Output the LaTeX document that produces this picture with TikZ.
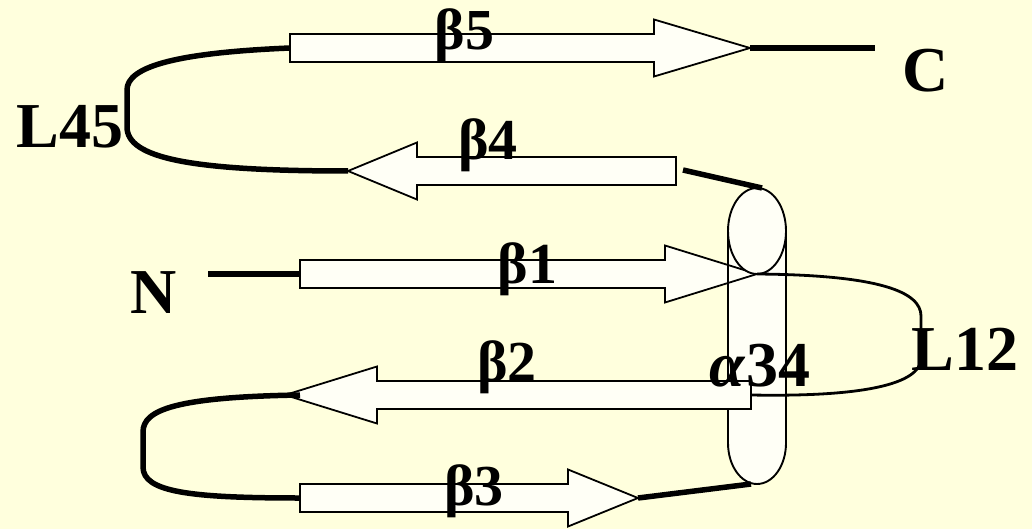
\documentclass[tikz,border=0pt]{standalone}
\usepackage{fontspec}
\setmainfont{Liberation Serif}
\definecolor{bg}{RGB}{255,255,221}
\definecolor{sheet}{RGB}{255,255,246}
\tikzset{
  strand/.style={draw=black, line width=1.8pt, fill=sheet, line join=miter},
  loopthick/.style={draw=black, line width=5.5pt},
  loopthin/.style={draw=black, line width=2.8pt},
  helixfill/.style={fill=sheet},
  helixline/.style={draw=black, line width=1.9pt},
  biglbl/.style={font=\fontsize{64}{64}\selectfont\bfseries, inner sep=0pt, anchor=base},
  betalbl/.style={font=\fontsize{58}{58}\selectfont\bfseries, inner sep=0pt, anchor=base},
}
% #1 tail x, #2 head base x, #3 tip x, #4 centre y, #5 name
\newcommand\sheetarrow[5]{%
  \draw[strand] (#1,#4-14) -- (#2,#4-14) -- (#2,#4-28.5) -- (#3,#4) -- (#2,#4+28.5) -- (#2,#4+14) -- (#1,#4+14) -- cycle;
  \coordinate (#5tail) at (#1,#4);
  \coordinate (#5tip) at (#3,#4);
}
\begin{document}
\begin{tikzpicture}[x=1pt,y=-1pt]
\useasboundingbox (0,0) rectangle (1032,529);
\fill[bg] (0,0) rectangle (1032,529);

% helix body (fill)
\fill[helixfill] (728,231) -- (728,443) arc[start angle=180, end angle=0, x radius=29, y radius=41] -- (786,231) -- cycle;

% beta1
\sheetarrow{300}{665}{757}{274}{bo}

% helix outline over beta1
\draw[helixline] (728,231) -- (728,443) arc[start angle=180, end angle=0, x radius=29, y radius=41] -- (786,231);
\draw[helixline, fill=sheet] (757,231) ellipse[x radius=29, y radius=43];
\coordinate (htop) at (762,188);
\coordinate (hbot) at (751,484);

% other strands
\sheetarrow{751}{377}{285}{395}{bt}
\sheetarrow{300}{568}{638}{498}{bh}
\sheetarrow{676}{417}{348}{171}{bf}
\sheetarrow{290}{654}{750}{48}{bv}

\coordinate (nend) at (208,274);
\coordinate (cend) at (875,48);
\coordinate (bfend) at (683,170);

% terminal lines
\draw[loopthick] (nend) -- (botail);
\draw[loopthick] (bvtip) -- (cend);

% loops
\draw[loopthick] (bvtail) .. controls (170,53) and (127,68) .. (127,90) -- (127,127) .. controls (127,158) and (190,171) .. (bftip);
\draw[loopthick] ([xshift=15pt]bttip) .. controls (175,397) and (143,410) .. (143,432) -- (143,467) .. controls (143,492) and (190,498) .. (bhtail);
\draw[loopthin] (botip) .. controls (880,275) and (921,292) .. (921,316) -- (921,358) .. controls (921,385) and (860,397) .. (bttail);

% helix connectors
\draw[loopthick] (bfend) -- (htop);
\draw[loopthick] (bhtip) -- (hbot);

% labels
\node[betalbl] (l5) at (464.5,50) {β5};
\node[betalbl] (l4) at (488,160) {β4};
\node[betalbl] (l1) at (527.5,283) {β1};
\node[betalbl] (l2) at (507,381) {β2};
\node[betalbl] (l3) at (474,505) {β3};
\node[biglbl] (lL45) at (70,148) {L45};
\node[biglbl] (lN) at (154,313) {N};
\node[biglbl] (lC) at (926,92) {C};
\node[biglbl] (lL12) at (965,370) {L12};
\node[biglbl] (la) at (760,386) {\textit{α}34};
\end{tikzpicture}
\end{document}
